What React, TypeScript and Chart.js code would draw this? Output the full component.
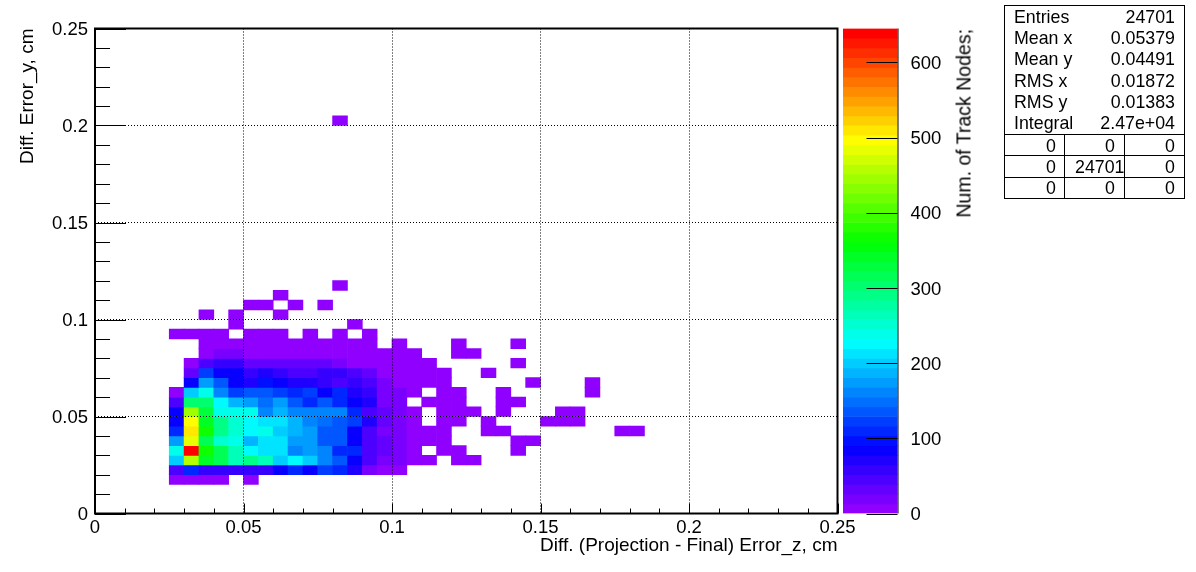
import React, { useEffect, useRef } from "react";
import { Chart, registerables } from "chart.js";

Chart.register(...registerables);

const FONT = "'Liberation Sans', Arial, sans-serif";
const BIN = 0.005;
const FIRST_COL = 5;
const Z_MAX = 645;
const LEVELS = 50;

// Counts per y-bin, first value belongs to x-bin FIRST_COL (x = 0.025)
const row03 = [8, 8, 8, 8, 0, 8];
const row04 = [45, 105, 55, 55, 55, 55, 60, 85, 105, 85, 120, 105, 65, 25, 10, 10];
const row05 = [197, 455, 340, 310, 260, 290, 260, 200, 225, 195, 158, 140, 85, 45, 25, 15, 8, 8, 0, 8, 8];
const row06 = [240, 645, 370, 320, 270, 225, 210, 210, 158, 180, 155, 115, 105, 45, 30, 20, 8, 0, 8, 8, 0, 0, 0, 8];
const row07 = [176, 480, 320, 255, 240, 190, 210, 210, 176, 168, 130, 140, 85, 45, 30, 20, 8, 8, 8, 0, 0, 0, 0, 8, 8];
const row08 = [115, 510, 370, 285, 255, 225, 240, 197, 190, 180, 140, 140, 85, 45, 18, 15, 8, 8, 8, 0, 0, 8, 8, 0, 0, 0, 0, 0, 0, 0, 8, 8];
const row09 = [85, 495, 345, 285, 255, 225, 210, 210, 190, 165, 150, 130, 120, 65, 35, 20, 8, 0, 8, 8, 0, 8, 0, 0, 0, 8, 8, 8];
const row10 = [80, 440, 335, 240, 240, 245, 165, 185, 165, 165, 165, 155, 115, 40, 35, 25, 8, 0, 8, 8, 8, 0, 8, 0, 0, 0, 8, 8];
const row11 = [45, 300, 300, 225, 190, 180, 150, 176, 140, 115, 140, 115, 85, 65, 15, 15, 0, 8, 8, 8, 0, 0, 8, 8];
const row12 = [10, 197, 245, 165, 120, 130, 130, 120, 105, 120, 85, 105, 70, 55, 25, 20, 8, 0, 8, 8, 0, 0, 8, 0, 0, 0, 0, 0, 8];
const row13 = [0, 80, 172, 140, 85, 70, 100, 85, 70, 65, 60, 45, 55, 40, 18, 12, 8, 8, 8, 0, 0, 0, 0, 0, 8, 0, 0, 0, 8];
const row14 = [0, 30, 120, 85, 80, 60, 70, 60, 45, 45, 60, 55, 40, 28, 10, 10, 8, 8, 8, 0, 0, 8];
const row15 = [0, 8, 40, 55, 55, 35, 30, 30, 30, 30, 30, 15, 12, 10, 8, 8, 8, 8, 0, 0, 0, 0, 0, 8];
const row16 = [0, 0, 8, 25, 25, 12, 12, 12, 12, 12, 12, 10, 10, 8, 8, 8, 8, 0, 0, 8, 8];
const row17 = [0, 0, 8, 8, 8, 8, 8, 8, 8, 8, 8, 8, 8, 8, 0, 8, 0, 0, 0, 8, 0, 0, 0, 8];
const row18 = [8, 8, 8, 8, 0, 8, 8, 8, 0, 8, 0, 8, 0, 8];
const row19 = [0, 0, 0, 0, 8, 0, 0, 0, 0, 0, 0, 0, 8];
const row20 = [0, 0, 8, 0, 8, 0, 0, 8];
const row21 = [0, 0, 0, 0, 0, 8, 8, 0, 8, 0, 8];
const row22 = [0, 0, 0, 0, 0, 0, 0, 8];
const row23 = [0, 0, 0, 0, 0, 0, 0, 0, 0, 0, 0, 8];
const row40 = [0, 0, 0, 0, 0, 0, 0, 0, 0, 0, 0, 8];

const rows: [number, number[]][] = [
  [3, row03], [4, row04], [5, row05], [6, row06], [7, row07], [8, row08], [9, row09],
  [10, row10], [11, row11], [12, row12], [13, row13], [14, row14], [15, row15], [16, row16],
  [17, row17], [18, row18], [19, row19], [20, row20], [21, row21], [22, row22], [23, row23], [40, row40],
];

const statLabels = ["Entries", "Mean x", "Mean y", "RMS x", "RMS y", "Integral"];
const statValues = ["24701", "0.05379", "0.04491", "0.01872", "0.01383", "2.47e+04"];
const overflowRow1 = ["0", "0", "0"];
const overflowRow2 = ["0", "24701", "0"];
const overflowRow3 = ["0", "0", "0"];

const xTitle = "Diff. (Projection - Final) Error_z, cm";
const yTitle = "Diff. Error_y, cm";
const zTitle = "Num. of Track Nodes;";

const STOPS: [number, number, number, number][] = [
  [0, 144, 0, 255],
  [0.13, 0, 0, 255],
  [0.35, 0, 255, 255],
  [0.56, 0, 255, 0],
  [0.775, 255, 255, 0],
  [1, 255, 0, 0],
];

function paletteAt(t: number): string {
  for (let i = 1; i < STOPS.length; i++) {
    const a = STOPS[i - 1];
    const b = STOPS[i];
    if (t <= b[0]) {
      const f = (t - a[0]) / (b[0] - a[0]);
      const c = [1, 2, 3].map((k) => Math.round(a[k] + (b[k] - a[k]) * f));
      return `rgb(${c[0]},${c[1]},${c[2]})`;
    }
  }
  return "rgb(255,0,0)";
}

function levelColor(level: number): string {
  return paletteAt(Math.min(level, LEVELS - 1) / (LEVELS - 1));
}

function valueColor(v: number): string {
  return levelColor(Math.floor((v / Z_MAX) * LEVELS));
}

const isMajor = (v: number) => Math.abs(v / 0.05 - Math.round(v / 0.05)) < 1e-6;
const fmt = (v: number) => String(Number(v.toFixed(2)));

const framePlugin = {
  id: "rootFrame",
  afterDraw(chart: any) {
    const { ctx, chartArea: a, scales } = chart;
    ctx.save();
    ctx.strokeStyle = "#000";
    ctx.lineWidth = 1;
    for (const t of scales.y.ticks) {
      const y = Math.round(scales.y.getPixelForValue(t.value)) + 0.5;
      const len = isMajor(t.value) ? 31 : 15;
      ctx.beginPath();
      ctx.moveTo(a.left, y);
      ctx.lineTo(a.left + len, y);
      ctx.stroke();
    }
    for (const t of scales.x.ticks) {
      const x = Math.round(scales.x.getPixelForValue(t.value)) + 0.5;
      const len = isMajor(t.value) ? 10 : 5;
      ctx.beginPath();
      ctx.moveTo(x, a.bottom);
      ctx.lineTo(x, a.bottom - len);
      ctx.stroke();
    }
    ctx.lineWidth = 2;
    ctx.strokeRect(a.left, a.top, a.right - a.left, a.bottom - a.top);
    ctx.restore();
  },
};

const barTickPlugin = {
  id: "paletteTicks",
  afterDraw(chart: any) {
    const { ctx, chartArea: a, scales } = chart;
    ctx.save();
    ctx.strokeStyle = "#000";
    ctx.lineWidth = 1;
    for (const t of scales.y.ticks) {
      const y = Math.round(scales.y.getPixelForValue(t.value)) + 0.5;
      ctx.beginPath();
      ctx.moveTo(a.right, y);
      ctx.lineTo(a.right - 31, y);
      ctx.stroke();
    }
    ctx.beginPath();
    ctx.moveTo(a.right + 0.5, a.top);
    ctx.lineTo(a.right + 0.5, a.bottom);
    ctx.stroke();
    ctx.restore();
  },
};

const canvasStyle: React.CSSProperties = { position: "absolute", left: 0, top: 0 };

const textStyle: React.CSSProperties = {
  position: "absolute",
  fontFamily: FONT,
  fontSize: 17.8,
  lineHeight: "21px",
  whiteSpace: "nowrap",
  color: "#000",
};

const line = (s: React.CSSProperties): React.CSSProperties => ({ position: "absolute", background: "#000", ...s });

const overflowTops = [136, 157, 178];
const overflowRows = [overflowRow1, overflowRow2, overflowRow3];
const overflowCentres = [1051, 1110, 1170];

export default function App() {
  const mainRef = useRef<HTMLCanvasElement>(null);
  const barRef = useRef<HTMLCanvasElement>(null);

  useEffect(() => {
    document.body.style.margin = "0";
    const cells: any[] = [];
    const colors: string[] = [];
    for (const [j, vals] of rows) {
      vals.forEach((v, k) => {
        if (v <= 0) return;
        const col = FIRST_COL + k;
        cells.push({ x: (col + 0.5) * BIN, y: [j * BIN, (j + 1) * BIN] });
        colors.push(valueColor(v));
      });
    }

    const gridColor = (ctx: any) => {
      const v = ctx.tick?.value ?? 0;
      return isMajor(v) && v > 1e-6 && v < 0.2499 ? "#000" : "rgba(0,0,0,0)";
    };

    const main = new Chart(mainRef.current!, {
      type: "bar",
      data: {
        datasets: [
          {
            data: cells,
            backgroundColor: colors,
            borderWidth: 0,
            barPercentage: 1,
            categoryPercentage: 1,
            grouped: false,
            inflateAmount: 0.33,
          } as any,
        ],
      },
      options: {
        responsive: false,
        animation: false,
        layout: { padding: { left: 0, top: 28.5, right: 1196 - 837.5, bottom: 0 } },
        plugins: { legend: { display: false }, tooltip: { enabled: false } },
        scales: {
          x: {
            type: "linear",
            offset: false,
            min: 0,
            max: 0.25,
            afterFit: (s: any) => { s.height = 58.5; },
            grid: { offset: false, z: 1, color: gridColor, lineWidth: 1, drawTicks: false },
            border: { display: false, dash: [1, 2] },
            ticks: {
              stepSize: 0.01,
              autoSkip: false,
              maxRotation: 0,
              padding: 3.5,
              color: "#000",
              font: { family: FONT, size: 18.5 },
              callback: (v: any) => (isMajor(Number(v)) ? fmt(Number(v)) : ""),
            },
            title: {
              display: true,
              text: xTitle,
              align: "end",
              color: "#000",
              font: { family: FONT, size: 19 },
              padding: { top: 15, bottom: 15 },
            },
          },
          y: {
            type: "linear",
            min: 0,
            max: 0.25,
            afterFit: (s: any) => { s.width = 95; },
            grid: { z: 1, color: gridColor, lineWidth: 1, drawTicks: false },
            border: { display: false, dash: [1, 2] },
            ticks: {
              stepSize: 0.01,
              autoSkip: false,
              padding: 7,
              labelOffset: 1.5,
              color: "#000",
              font: { family: FONT, size: 18.5 },
              callback: (v: any) => (isMajor(Number(v)) ? fmt(Number(v)) : ""),
            },
            title: {
              display: true,
              text: yTitle,
              align: "end",
              color: "#000",
              font: { family: FONT, size: 19 },
              padding: { top: 16, bottom: 16 },
            },
          },
        },
      },
      plugins: [framePlugin],
    } as any);

    const barCells: any[] = [];
    const barColors: string[] = [];
    const step = Z_MAX / LEVELS;
    for (let k = 0; k < LEVELS; k++) {
      barCells.push({ y: (k + 0.5) * step, x: [0, 1] });
      barColors.push(levelColor(k));
    }
    const bar = new Chart(barRef.current!, {
      type: "bar",
      data: {
        datasets: [
          {
            data: barCells,
            backgroundColor: barColors,
            borderWidth: 0,
            barPercentage: 1,
            categoryPercentage: 1,
            grouped: false,
            inflateAmount: 0.33,
          } as any,
        ],
      },
      options: {
        responsive: false,
        animation: false,
        indexAxis: "y",
        layout: { padding: { left: 843, top: 28.5, right: 0, bottom: 0 } },
        plugins: { legend: { display: false }, tooltip: { enabled: false } },
        scales: {
          x: {
            type: "linear",
            min: 0,
            max: 1,
            display: true,
            afterFit: (s: any) => { s.height = 58.5; },
            grid: { display: false },
            border: { display: false },
            ticks: { display: false },
          },
          y: {
            type: "linear",
            position: "right",
            offset: false,
            min: 0,
            max: Z_MAX,
            afterFit: (s: any) => { s.width = 1196 - 897.5; },
            grid: { display: false, offset: false },
            border: { display: false },
            ticks: {
              stepSize: 100,
              includeBounds: false,
              autoSkip: false,
              padding: 5,
              labelOffset: 1.5,
              color: "#000",
              font: { family: FONT, size: 18.5 },
            },
          },
        },
      },
      plugins: [barTickPlugin],
    } as any);

    return () => {
      main.destroy();
      bar.destroy();
    };
  }, []);

  return (
    <div style={{ position: "fixed", left: 0, top: 0, width: 1196, height: 572, background: "#fff", overflow: "hidden" }}>
      <canvas ref={mainRef} width={1196} height={572} style={canvasStyle} />
      <canvas ref={barRef} width={1196} height={572} style={canvasStyle} />
      <div
        style={{
          ...textStyle,
          fontSize: 19.5,
          left: 964,
          top: 29,
          transformOrigin: "0 0",
          transform: "translate(-10.5px, 0) rotate(-90deg) translateX(-100%)",
        }}
      >
        {zTitle}
      </div>

      <div style={{ position: "absolute", left: 1004, top: 5, width: 179, height: 192, border: "1px solid #000" }} />
      <div style={line({ left: 1004, top: 134, width: 181, height: 1 })} />
      <div style={line({ left: 1004, top: 155, width: 181, height: 1 })} />
      <div style={line({ left: 1004, top: 177, width: 181, height: 1 })} />
      <div style={line({ left: 1064, top: 134, width: 1, height: 64 })} />
      <div style={line({ left: 1124, top: 134, width: 1, height: 64 })} />

      {statLabels.map((s, i) => (
        <div key={s} style={{ ...textStyle, left: 1014, top: 7 + i * 21.2 }}>{s}</div>
      ))}
      {statValues.map((s, i) => (
        <div key={i} style={{ ...textStyle, right: 1196 - 1175, top: 7 + i * 21.2 }}>{s}</div>
      ))}
      {overflowRows.map((r, i) =>
        r.map((s, k) => (
          <div
            key={`${i}-${k}`}
            style={{
              ...textStyle,
              top: overflowTops[i],
              left: s.length > 1 ? 1075 : overflowCentres[k] - 5,
            }}
          >
            {s}
          </div>
        ))
      )}
    </div>
  );
}
